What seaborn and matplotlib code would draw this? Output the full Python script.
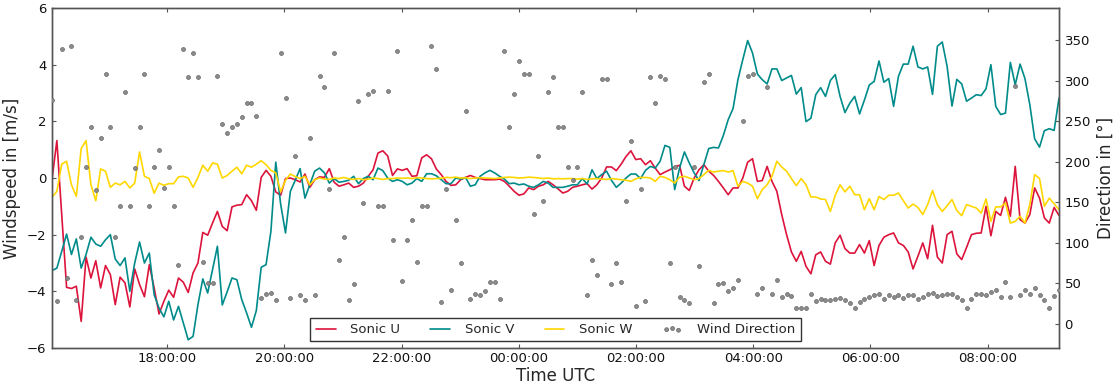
import numpy as np
import pandas as pd
import matplotlib
matplotlib.use("Agg")
import matplotlib.pyplot as plt
import matplotlib.dates as mdates
import seaborn as sns

# 5-minute sonic anemometer record (m/s) and wind direction (deg)
sonic_u = [
    -0.05, 1.32, -1.3, -3.86, -3.9, -3.82, -5.06, -2.79, -3.53, -2.92,
    -3.88, -3.09, -3.41, -4.47, -3.5, -3.7, -4.55, -3.21, -3.76, -4.19,
    -3.06, -3.88, -4.8, -4.35, -3.96, -4.21, -3.53, -3.68, -4.04, -3.35,
    -3.0, -1.92, -2.02, -1.59, -1.18,
    -1.71, -1.86, -1.02, -0.96, -0.94, -0.59, -0.8, -1.14, 0.02, 0.27,
    0.06, -0.49, -0.61, -0.02, 0.0, -0.06, -0.14, 0.14, -0.33, -0.06,
    0.04, 0.02, 0.33, -0.15, -0.29, -0.24, -0.18, -0.33, -0.29, -0.18,
    0.06, 0.29, 0.88, 0.96, 0.78,
    0.09, 0.32, 0.27, 0.33, 0.06, 0.08, 0.71, 0.82, 0.68, 0.32,
    0.12, -0.12, -0.26, -0.24, -0.06, 0.02, 0.09, 0.02, -0.02, -0.06,
    -0.06, -0.06, -0.04, -0.12, -0.29, -0.47, -0.61, -0.56, -0.35, -0.41,
    -0.29, -0.24, -0.12, -0.24,
    -0.38, -0.53, -0.47, -0.33, -0.29, -0.24, -0.2, -0.39, -0.24, 0.0,
    0.39, 0.39, 0.26, 0.49, 0.76, 0.96, 0.65, 0.68, 0.47, 0.61,
    0.35, 0.12, 0.21, 0.29, 0.39, 0.45, -0.29, -0.44, 0.0, 0.29,
    0.47, 0.24, 0.09, -0.12, -0.35,
    -0.59, -0.35, -0.35, 0.0, 0.56, 0.68, -0.12, -0.09, 0.41, -0.12,
    -0.47, -1.29, -2.0, -2.61, -2.94, -2.59, -3.12, -3.38, -2.71, -2.61,
    -2.94, -3.04, -2.29, -2.02, -2.49, -2.65, -2.65, -2.35, -2.65, -2.21,
    -3.09, -2.38, -2.09, -2.0,
    -1.94, -2.29, -2.38, -2.61, -3.21, -2.76, -2.29, -2.85, -1.67, -2.79,
    -3.0, -2.0, -1.88, -2.68, -2.88, -2.45, -2.0, -1.95, -1.94, -1.0,
    -2.04, -1.18, -1.32, -0.68, -1.35, 0.41, -1.47, -1.59, -1.29, -0.35,
    -0.71, -1.41, -1.59, -1.04, -1.32,
]

sonic_v = [
    -3.27, -3.18, -2.59, -1.98, -2.7, -2.15, -3.18, -2.7, -2.09, -2.33,
    -2.41, -2.18, -2.0, -2.86, -3.09, -2.82, -4.0, -3.0, -2.26, -3.0,
    -2.65, -4.12, -4.59, -4.9, -4.35, -5.01, -4.53, -5.12, -5.71, -5.59,
    -4.47, -3.56, -4.06, -3.24, -2.41,
    -4.48, -4.02, -3.53, -3.59, -4.29, -4.76, -5.27, -4.68, -3.15, -3.06,
    -1.88, 0.56, -0.92, -1.94, -0.47, -0.08, 0.33, -0.71, -0.24, 0.24,
    0.35, 0.18, -0.18, -0.02, -0.15, -0.12, -0.08, 0.06, -0.2, -0.02,
    0.06, -0.06, 0.35, 0.26, 0.0,
    -0.12, -0.06, -0.12, -0.24, -0.18, -0.02, -0.12, 0.15, 0.15, 0.08,
    -0.06, -0.2, -0.2, 0.0, -0.04, 0.02, -0.29, -0.24, 0.06, 0.18,
    0.27, 0.18, 0.06, -0.04, -0.2, -0.18, -0.24, -0.21, -0.29, -0.33,
    -0.24, -0.12, -0.18, -0.33,
    -0.33, -0.33, -0.29, -0.24, -0.24, -0.02, -0.21, 0.29, -0.02, 0.12,
    0.24, -0.08, -0.33, -0.18, 0.0, 0.14, 0.14, -0.02, 0.27, 0.41,
    0.35, 0.59, 1.15, 1.08, -0.41, 0.35, 0.92, 0.53, 0.18, -0.09,
    0.47, 1.04, 1.08, 1.06, 1.5,
    2.06, 2.45, 3.47, 4.18, 4.85, 4.41, 3.67, 3.47, 3.32, 3.85,
    3.85, 3.44, 3.53, 3.62, 2.96, 3.19, 1.99, 2.11, 2.94, 3.19,
    2.88, 3.44, 3.65, 2.88, 2.31, 2.64, 2.88, 2.26, 2.75, 3.28,
    3.41, 4.13, 3.38, 3.51,
    2.53, 3.59, 4.02, 4.02, 4.65, 3.92, 3.85, 3.92, 2.95, 4.65,
    4.8, 3.94, 2.54, 3.48, 3.32, 2.71, 2.82, 2.94, 2.91, 3.15,
    4.0, 2.53, 2.24, 2.29, 4.08, 3.29, 4.02, 3.51, 2.59, 1.38,
    1.09, 1.67, 1.74, 1.68, 2.82,
]

sonic_w = [
    -0.68, -0.47, 0.49, 0.59, -0.24, -0.65, 1.04, 1.32, -0.24, -0.8,
    0.32, 0.24, -0.33, -0.18, -0.24, -0.12, -0.35, -0.18, 0.92, 0.06,
    -0.02, -0.54, -0.18, -0.26, -0.2, -0.2, 0.04, 0.06, 0.0, -0.33,
    0.02, 0.45, 0.24, 0.53, 0.49,
    0.0, 0.09, 0.24, 0.38, 0.15, 0.45, 0.38, 0.49, 0.61, 0.47,
    0.27, 0.18, -0.49, -0.08, 0.14, 0.05, -0.02, 0.06, -0.24, -0.06,
    0.0, -0.04, -0.05, 0.0, -0.02, 0.02, -0.03, -0.05, -0.02, -0.06,
    -0.04, 0.0, -0.02, -0.05, -0.02,
    -0.02, 0.0, -0.01, 0.0, -0.02, 0.01, 0.0, -0.02, -0.03, -0.02,
    -0.01, 0.02, 0.01, 0.03, 0.0, 0.01, -0.02, 0.0, 0.01, 0.0,
    -0.01, -0.02, 0.0, 0.02, 0.03, 0.02, 0.0, 0.01, 0.03, 0.02,
    0.0, -0.02, 0.0, -0.03,
    -0.02, -0.03, -0.02, -0.02, -0.04, -0.02, -0.05, -0.03, -0.02, -0.04,
    -0.05, -0.02, -0.04, -0.06, -0.08, -0.12, -0.03, 0.02, 0.02, 0.0,
    -0.12, 0.06, 0.02, -0.06, -0.18, 0.03, 0.06, 0.0, -0.06, -0.02,
    0.12, 0.27, 0.21, 0.24, 0.26,
    0.21, 0.26, -0.29, -0.12, -0.18, -0.29, -0.73, -0.41, -0.24, 0.06,
    0.59, 0.39, 0.24, -0.02, -0.27, -0.02, -0.24, -0.67, -0.67, -0.74,
    -0.76, -1.18, -0.61, -0.24, -0.49, -0.29, -0.59, -0.59, -1.12, -0.73,
    -1.12, -0.65, -0.76, -0.61,
    -0.61, -0.53, -0.8, -1.06, -0.92, -1.04, -1.29, -0.94, -0.44, -0.94,
    -1.18, -0.98, -0.76, -1.15, -1.33, -0.94, -1.0, -1.06, -1.24, -0.74,
    -1.53, -1.02, -1.02, -0.88, -1.59, -1.53, -1.35, -1.59, -0.94, 0.12,
    -0.02, -1.0, -0.71, -0.91, -1.12,
]

wind_dir = [
    276, 28, 339, 56, 343, 29, 107, 193, 243, 165,
    229, 309, 243, 107, 145, 286, 145, 192, 243, 309,
    146, 193, 215, 168, 193, 145, 72, 339, 305, 334,
    305, 76, 50, 50, 306,
    247, 236, 243, 247, 255, 273, 273, 257, 32, 37,
    38, 29, 334, 279, 32, 207, 36, 29, 229, 35,
    306, 293, 166, 334, 79, 107, 29, 49, 275, 149,
    284, 287, 145, 145,
    288, 103, 337, 53, 103, 128, 76, 146, 146, 343,
    315, 27, 167, 42, 128, 75, 263, 30, 37, 36,
    40, 52, 52, 30, 337, 243, 284, 324, 309, 309,
    136, 207, 152, 286, 305,
    243, 243, 193, 177, 193, 286, 35, 79, 60, 302,
    302, 49, 75, 52, 152, 226, 22, 167, 28, 305,
    273, 306, 302, 75, 193, 33, 29, 26, 193, 71,
    299, 308, 26, 49,
    50,
    41, 44, 54, 251, 306, 308, 37, 44, 293, 37,
    54, 33, 37, 34, 19, 19, 20, 37, 28, 30,
    29, 29, 30, 32, 29, 26, 19, 27, 30, 33,
    35, 37, 31, 35,
    33, 35, 32, 35, 35, 30, 33, 37, 38, 34,
    35, 37, 37, 33, 29, 19, 30, 37, 37, 35,
    39, 42, 33, 52, 33, 294, 35, 42, 37, 44,
    35, 29, 19, 34, 42,
]

times = pd.date_range("2016-01-01 16:02", "2016-01-02 09:13", periods=len(sonic_u))
df = pd.DataFrame({"time": times, "u": sonic_u, "v": sonic_v,
                   "w": sonic_w, "dir": wind_dir})

sns.set_style("white")
plt.rcParams.update({
    "font.family": ["DejaVu Sans"],
    "font.size": 9.5,
    "axes.edgecolor": "#555555",
    "axes.linewidth": 1.0,
    "xtick.direction": "in",
    "ytick.direction": "in",
    "xtick.color": "#555555",
    "ytick.color": "#555555",
    "xtick.labelcolor": "#111111",
    "ytick.labelcolor": "#111111",
    "xtick.labelsize": 9.5,
    "ytick.labelsize": 9.5,
    "xtick.major.size": 3,
    "ytick.major.size": 3,
})

fig = plt.figure(figsize=(11.16, 3.87), dpi=100)
ax = fig.add_axes([52 / 1116, 39 / 387, 1007 / 1116, 340 / 387])

series = [("u", "crimson", "Sonic U"), ("v", "darkcyan", "Sonic V"),
          ("w", "gold", "Sonic W")]
for col, color, name in series:
    sns.lineplot(data=df, x="time", y=col, ax=ax, color=color,
                 linewidth=1.2, legend=False)

ax2 = ax.twinx()
sns.scatterplot(data=df, x="time", y="dir", ax=ax2, s=8, color="#8c8c8c",
                edgecolor="#666666", linewidth=0.5, legend=False, zorder=3)

ax.set_xlim(times[0], times[-1])
ax.set_ylim(-6, 6)
ax.set_yticks(np.arange(-6, 7, 2))
ax2.set_ylim(-30, 390)
ax2.set_yticks(np.arange(0, 351, 50))

ax.xaxis.set_major_locator(mdates.HourLocator(byhour=range(0, 24, 2)))
ax.xaxis.set_major_formatter(mdates.DateFormatter("%H:%M:%S"))
ax.tick_params(axis="x", top=True, bottom=True, pad=3)
ax.tick_params(axis="y", left=True, right=False, pad=4)
ax2.tick_params(axis="y", right=True, left=False, pad=4)

ax.set_xlabel("Time UTC", fontsize=12, labelpad=1)
ax.set_ylabel("Windspeed in [m/s]", fontsize=12, labelpad=4)
ax2.set_ylabel("Direction in [°]", fontsize=12, labelpad=5)

handles = list(ax.get_lines()[:3]) + [ax2.collections[0]]
labels = [name for _, _, name in series] + ["Wind Direction"]
leg = ax2.legend(handles, labels, loc="lower center", ncol=4,
                 frameon=True, fancybox=False, framealpha=1,
                 edgecolor="#333333", fontsize=9.5, handlelength=1.5,
                 handletextpad=1.1, columnspacing=2.3, scatterpoints=3,
                 borderpad=0.4)
leg.get_frame().set_linewidth(1.0)

fig.savefig("out.png", dpi=100)
